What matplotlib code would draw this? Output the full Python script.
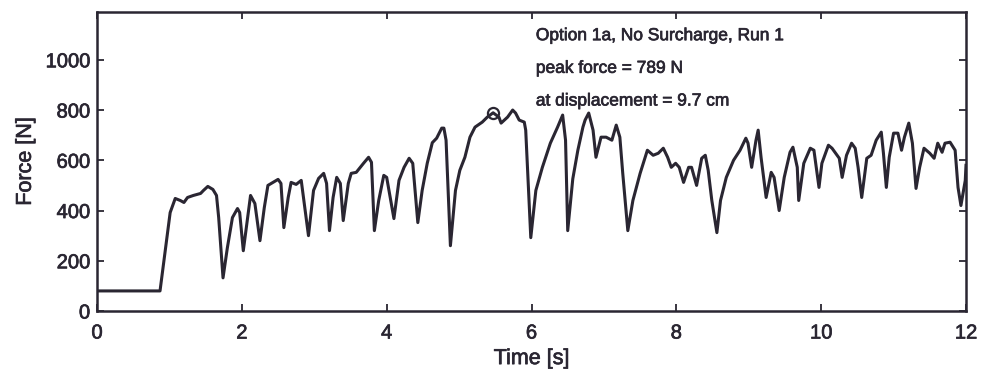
import numpy as np
import matplotlib
matplotlib.use("Agg")
import matplotlib.pyplot as plt
import matplotlib.patheffects as pe

# pull-out test, option 1a, no surcharge, run 1
time_s = [
    0.00, 0.87, 1.01, 1.08, 1.15, 1.20, 1.25, 1.33, 1.43, 1.47, 1.53, 1.60, 1.65, 1.68,
    1.74, 1.80, 1.87, 1.94, 1.97, 2.02, 2.08, 2.12, 2.18, 2.25, 2.31, 2.36, 2.43, 2.50,
    2.54, 2.58, 2.64, 2.68, 2.75, 2.82, 2.92, 2.99, 3.06, 3.13, 3.17, 3.21, 3.26, 3.31,
    3.36, 3.40, 3.47, 3.51, 3.58, 3.68, 3.75, 3.79, 3.83, 3.89, 3.96, 4.00, 4.10, 4.17,
    4.24, 4.31, 4.36, 4.43, 4.49, 4.56, 4.63, 4.69, 4.76, 4.79, 4.82, 4.88, 4.95, 5.01,
    5.08, 5.15, 5.22, 5.32, 5.39, 5.47, 5.55, 5.58, 5.67, 5.74, 5.78, 5.83, 5.90, 5.92,
    5.99, 6.06, 6.15, 6.26, 6.36, 6.43, 6.47, 6.50, 6.57, 6.64, 6.71, 6.74, 6.79, 6.85,
    6.89, 6.96, 7.03, 7.11, 7.17, 7.22, 7.26, 7.33, 7.40, 7.50, 7.60, 7.68, 7.75, 7.82,
    7.88, 7.93, 7.99, 8.04, 8.10, 8.17, 8.21, 8.28, 8.35, 8.40, 8.44, 8.49, 8.56, 8.61,
    8.69, 8.79, 8.88, 8.96, 8.99, 9.04, 9.10, 9.13, 9.17, 9.24, 9.31, 9.35, 9.42, 9.49,
    9.57, 9.61, 9.67, 9.69, 9.76, 9.85, 9.90, 9.97, 10.01, 10.10, 10.15, 10.22, 10.25,
    10.29, 10.35, 10.42, 10.47, 10.51, 10.56, 10.63, 10.69, 10.76, 10.83, 10.86, 10.90,
    10.94, 11.00, 11.06, 11.11, 11.15, 11.21, 11.26, 11.31, 11.36, 11.42, 11.50, 11.56,
    11.61, 11.67, 11.71, 11.78, 11.85, 11.89, 11.93, 11.99, 12.00,
]
force_n = [
    80, 80, 392, 448, 440, 432, 452, 460, 468, 480, 496, 484, 460, 372,
    132, 252, 372, 408, 392, 240, 372, 460, 428, 280, 412, 500, 512, 524,
    508, 332, 452, 512, 504, 520, 300, 480, 528, 548, 508, 320, 452, 532,
    508, 360, 508, 548, 552, 588, 612, 592, 320, 440, 540, 532, 368, 520,
    572, 608, 588, 352, 480, 588, 670, 688, 728, 728, 680, 260, 480, 560,
    612, 692, 732, 752, 772, 789, 772, 748, 772, 800, 788, 760, 752, 720,
    292, 480, 572, 668, 732, 780, 680, 320, 526, 640, 732, 760, 788, 720,
    612, 692, 692, 680, 740, 692, 548, 320, 440, 548, 640, 620, 628, 648,
    612, 572, 588, 572, 512, 572, 572, 500, 608, 620, 560, 440, 312, 440,
    532, 600, 640, 688, 668, 572, 680, 720, 612, 452, 552, 532, 400, 532,
    632, 652, 572, 440, 588, 648, 640, 492, 588, 660, 648, 620, 608,
    532, 620, 668, 648, 572, 452, 608, 620, 680, 712, 628, 492,
    612, 708, 708, 640, 692, 748, 668, 488, 572, 648, 628, 608,
    668, 632, 668, 672, 640, 492, 420, 520, 580,
]

peak_time = 5.47
peak_force = 789
peak_disp = 9.7

x_ticks = [0, 2, 4, 6, 8, 10, 12]
y_ticks = [0, 200, 400, 600, 800, 1000]

plt.rcParams["font.family"] = ["Liberation Sans", "DejaVu Sans"]
ink = "#2a2632"
heavy = [pe.withStroke(linewidth=0.5, foreground=ink)]  # slightly thicker glyphs

fig = plt.figure(figsize=(9.84, 3.77), dpi=100)
ax = fig.add_axes([0.0986, 0.175, 0.8831, 0.793])

ax.plot(time_s, force_n, color=ink, lw=2.2, solid_joinstyle="round")
ax.plot([peak_time], [peak_force], "o", mfc="none", mec=ink, ms=8, mew=1.6)

ax.set_xlim(0, 12)
ax.set_ylim(0, 1190)
ax.set_xticks(x_ticks)
ax.set_yticks(y_ticks)
ax.tick_params(direction="in", length=5, width=1.3, top=True, right=True,
               labelsize=14.5, colors=ink)
ax.tick_params(axis="x", pad=9)
ax.tick_params(axis="y", pad=5)
for lbl in ax.get_xticklabels() + ax.get_yticklabels():
    lbl.set_path_effects(heavy)
for s in ax.spines.values():
    s.set_linewidth(1.8)
    s.set_color(ink)

ax.set_xlabel("Time [s]", fontsize=15.5, color=ink, labelpad=4, path_effects=heavy)
ax.set_ylabel("Force [N]", fontsize=15.5, color=ink, labelpad=7, path_effects=heavy)

lines = [
    "Option 1a, No Surcharge, Run 1",
    f"peak force = {peak_force} N",
    f"at displacement = {peak_disp} cm",
]
for i, txt in enumerate(lines):
    ax.text(6.06, 1096 - i * 130, txt, fontsize=12.5, color=ink, va="center", ha="left",
            path_effects=heavy)

fig.savefig("out.png", dpi=100)
